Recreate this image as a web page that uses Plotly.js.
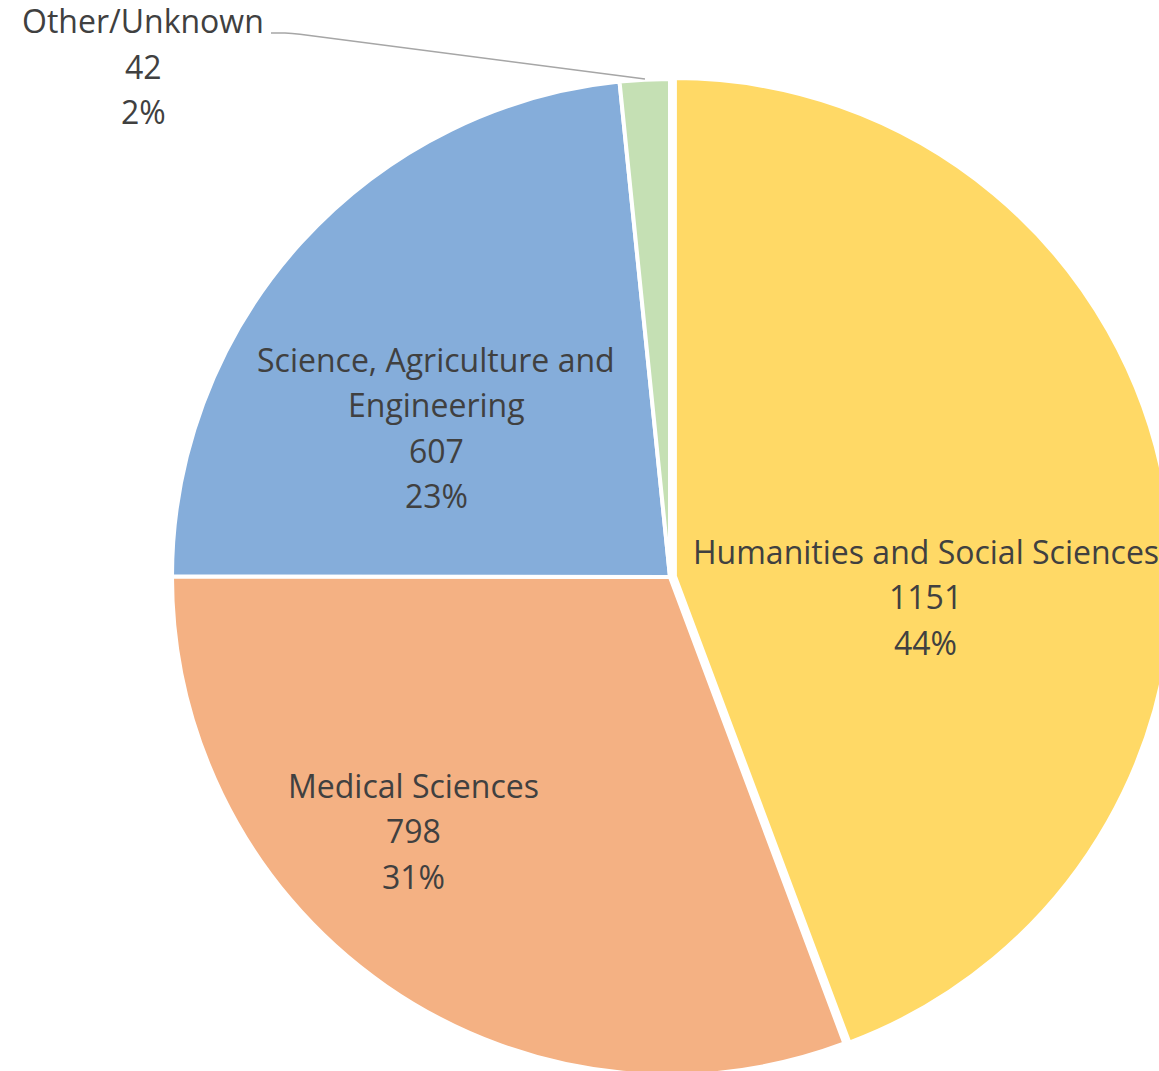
<!DOCTYPE html>
<html>
<head>
<meta charset="utf-8">
<script src="https://cdn.plot.ly/plotly-3.0.1.min.js"></script>
<style>
html,body{margin:0;padding:0;overflow:hidden;background:#fff;width:1159px;height:1071px;}
#chart{position:absolute;left:0;top:0;width:1200px;height:1100px;}
</style>
</head>
<body>
<div id="chart"></div>
<script>
// ---- data ----
const labels = ['Humanities and Social Sciences', 'Medical Sciences', 'Science, Agriculture and Engineering', 'Other/Unknown'];
const values = [1151, 798, 607, 42];
const colors = ['#FFD966', '#F4B183', '#85ADDA', '#C5E0B4'];

// ---- layout helpers ----
const W = 1200, H = 1100;
const px = x => x / W;
const py = y => 1 - y / H;

const total = values.reduce((a, b) => a + b, 0);
const pct = values.map(v => Math.round(v / total * 100) + '%');

// label text wrapping (display only)
const wrap = {'Science, Agriculture and Engineering': ['Science, Agriculture and', 'Engineering']};

// label anchors (center of first line, px) and line spacing
const anchors = [[926, 551], [413, 785], [436, 359], [143, 21]];
const lineGap = 45.5;
const textColor = '#404040';
const fontFamily = '"Open Sans", "Noto Sans", sans-serif';
const fontSize = 32;

const annotations = [];
labels.forEach((lab, i) => {
  const lines = (wrap[lab] || [lab]).concat([String(values[i]), pct[i]]);
  lines.forEach((t, j) => {
    annotations.push({
      text: t, xref: 'paper', yref: 'paper',
      x: px(anchors[i][0]), y: py(anchors[i][1] + j * lineGap),
      xanchor: 'center', yanchor: 'middle', showarrow: false,
      font: {family: fontFamily, size: fontSize, color: textColor}
    });
  });
});

// pie geometry: center (670,577), radius 498, pull 0.01
const cx = 670, cy = 577, r = 498, pull = 0.01;
const half = r * (1 + pull);

const trace = {
  type: 'pie',
  labels: labels,
  values: values,
  sort: false,
  direction: 'clockwise',
  rotation: 0,
  pull: [pull, 0, 0, 0],
  textinfo: 'none',
  hoverinfo: 'none',
  marker: {colors: colors, line: {color: '#FFFFFF', width: 4}},
  domain: {x: [px(cx - half), px(cx + half)], y: [py(cy + half), py(cy - half)]}
};

const leader = 'M' + px(271) + ',' + py(33) + ' L' + px(285) + ',' + py(33) +
               ' Q' + px(292) + ',' + py(33.3) + ' ' + px(300) + ',' + py(34.3) +
               ' L' + px(645) + ',' + py(79);

const layout = {
  width: W, height: H,
  margin: {l: 0, r: 0, t: 0, b: 0},
  paper_bgcolor: '#FFFFFF',
  showlegend: false,
  annotations: annotations,
  shapes: [{type: 'path', xref: 'paper', yref: 'paper', path: leader,
            line: {color: '#A6A6A6', width: 1.5}}]
};

Plotly.newPlot('chart', [trace], layout, {staticPlot: true, displayModeBar: false});
</script>
</body>
</html>
